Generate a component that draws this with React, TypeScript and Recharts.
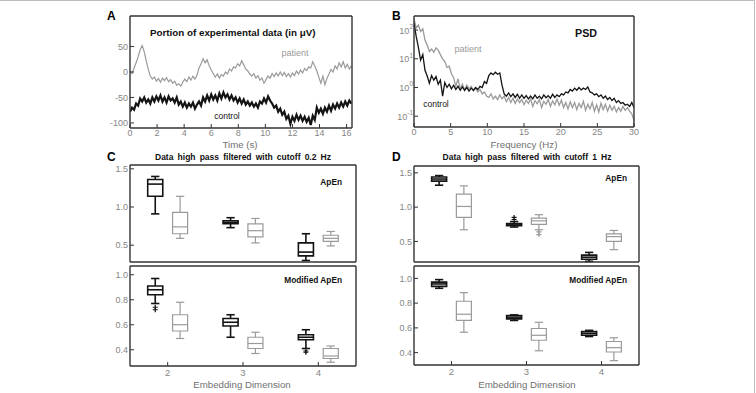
import React from 'react';
import {
  LineChart,
  Line,
  XAxis,
  YAxis,
  ComposedChart,
  Scatter,
  ReferenceArea,
  ReferenceLine,
} from 'recharts';

const FONT = '"Liberation Sans", Arial, Helvetica, sans-serif';
const AXIS = '#333333';
const TICK_TEXT = '#858585';
const CONTROL = '#141414';
const PATIENT = '#9a9a9a';

// A: raw traces, one sample every 0.15 s
const SAMPLE_STEP_S = 0.15;
const timeTicks = [0, 2, 4, 6, 8, 10, 12, 14, 16];
const patientTrace = [
  2, -3, 8, 18, 30, 44, 52, 40, 22, 5,
  -8, -14, -10, -18, -13, -20, -12, -17, -11, -19,
  -15, -22, -18, -26, -23, -28, -20, -14, -19, -10,
  -16, -8, -14, -6, 8, 16, 26, 18, 24, 12,
  4, -3, -10, -4, -12, -5, -8, 0, -4, 6,
  2, 10, 8, 16, 12, 22, 14, 6, 2, -4,
  -8, -3, -12, -7, -16, -12, -22, -15, -8, -12,
  -3, -9, -2, -8, 0, -7, -1, -9, -3, -10,
  -2, -7, 2, -4, 4, -2, 7, 3, 10, 8,
  20, 12, 2, -10, -22, -8, -25, -12, -4, 5,
  0, 12, 6, 18, 10, 20, 8, 15, 6, 12,
];
const controlTrace = [
  -78, -70, -74, -62, -66, -52, -58, -50, -60, -54,
  -62, -50, -58, -48, -56, -46, -58, -50, -60, -48,
  -56, -52, -60, -50, -64, -58, -68, -60, -70, -62,
  -68, -60, -72, -64, -58, -66, -50, -58, -46, -56,
  -44, -54, -46, -56, -42, -52, -40, -50, -44, -54,
  -46, -56, -50, -60, -52, -62, -54, -64, -58, -66,
  -60, -68, -62, -70, -58, -62, -52, -60, -48, -56,
  -62, -70, -66, -78, -72, -84, -78, -92, -86, -102,
  -88, -96, -84, -94, -86, -96, -88, -98, -90, -104,
  -86, -94, -70, -80, -72, -82, -70, -78, -66, -76,
  -64, -72, -62, -70, -60, -68, -58, -66, -56, -62,
];

// B: power spectral density, 0.3 Hz bins
const FREQ_STEP_HZ = 0.3;
const freqTicks = [0, 5, 10, 15, 20, 25, 30];
const psdTicks = [0.1, 1, 10, 100];
const patientPsd = [
  250, 120, 150, 90, 110, 45, 30, 18, 22, 17,
  24, 20, 14, 10, 8, 5, 5.5, 3, 2.2, 1.1,
  2, 0.9, 1.3, 0.8, 1.2, 0.9, 1.1, 0.75, 0.95, 0.7,
  0.85, 0.6, 0.7, 0.5, 0.45, 0.6, 0.4, 0.5, 0.38, 0.55,
  0.4, 0.5, 0.32, 0.45, 0.3, 0.42, 0.28, 0.4, 0.3, 0.38,
  0.25, 0.36, 0.28, 0.4, 0.22, 0.35, 0.27, 0.38, 0.2, 0.33,
  0.26, 0.38, 0.22, 0.34, 0.25, 0.4, 0.24, 0.36, 0.2, 0.3,
  0.18, 0.32, 0.2, 0.3, 0.17, 0.28, 0.2, 0.33, 0.16, 0.26,
  0.18, 0.3, 0.15, 0.25, 0.14, 0.28, 0.17, 0.26, 0.15, 0.24,
  0.16, 0.22, 0.14, 0.2, 0.15, 0.22, 0.16, 0.2, 0.15, 0.12,
  0.07,
];
const controlPsd = [
  180, 60, 25, 9, 14, 4, 2.5, 1.4, 2.6, 1.8,
  2.4, 1.3, 1.8, 0.5, 1.5, 1.0, 1.3, 0.9, 1.2, 0.85,
  1.1, 0.8, 1.05, 0.8, 1.0, 0.75, 0.95, 0.8, 1.0, 0.85,
  1.1, 1.0, 1.6, 1.4, 2.6, 3.2, 2.8, 3.4, 2.9, 3.2,
  1.2, 0.6, 0.5, 0.65, 0.48, 0.6, 0.45, 0.58, 0.42, 0.55,
  0.42, 0.52, 0.4, 0.5, 0.4, 0.55, 0.42, 0.5, 0.4, 0.55,
  0.44, 0.52, 0.42, 0.58, 0.45, 0.55, 0.48, 0.6, 0.55, 0.7,
  0.65, 0.85, 0.75, 0.95, 0.8, 1.0, 0.82, 0.95, 0.85, 1.05,
  0.7, 0.65, 0.55, 0.6, 0.48, 0.55, 0.42, 0.5, 0.38, 0.45,
  0.35, 0.42, 0.3, 0.35, 0.28, 0.3, 0.24, 0.26, 0.22, 0.3,
  0.2,
];

// C/D: box summaries per embedding dimension, [min, q1, median, q3, max]
const embeddingDims = [2, 3, 4];

const apEnLowCutControl = [
  [0.91, 1.14, 1.3, 1.36, 1.4],
  [0.73, 0.78, 0.8, 0.82, 0.86],
  [0.3, 0.36, 0.41, 0.53, 0.65],
];
const apEnLowCutPatient = [
  [0.59, 0.65, 0.74, 0.93, 1.14],
  [0.53, 0.61, 0.69, 0.78, 0.85],
  [0.49, 0.55, 0.59, 0.63, 0.68],
];
const modApEnLowCutControl = [
  [0.77, 0.84, 0.88, 0.91, 0.97],
  [0.5, 0.59, 0.62, 0.65, 0.68],
  [0.41, 0.48, 0.5, 0.52, 0.56],
];
const modApEnLowCutPatient = [
  [0.49, 0.55, 0.6, 0.68, 0.78],
  [0.37, 0.41, 0.45, 0.5, 0.54],
  [0.3, 0.33, 0.35, 0.41, 0.43],
];
const modApEnLowCutControlOutliers = [[2, 0.74], [2, 0.72], [4, 0.39], [4, 0.38]];

const apEnHighCutControl = [
  [1.32, 1.38, 1.41, 1.44, 1.46],
  [0.71, 0.73, 0.74, 0.76, 0.79],
  [0.21, 0.24, 0.27, 0.3, 0.34],
];
const apEnHighCutPatient = [
  [0.67, 0.85, 1.01, 1.19, 1.31],
  [0.67, 0.75, 0.8, 0.84, 0.89],
  [0.38, 0.5, 0.57, 0.61, 0.66],
];
const apEnHighCutControlOutliers = [[3, 0.85], [3, 0.82]];
const apEnHighCutPatientOutliers = [[3, 0.64], [3, 0.6]];
const modApEnHighCutControl = [
  [0.92, 0.935, 0.955, 0.97, 0.99],
  [0.66, 0.673, 0.687, 0.7, 0.705],
  [0.53, 0.54, 0.555, 0.57, 0.58],
];
const modApEnHighCutPatient = [
  [0.565, 0.66, 0.71, 0.815, 0.885],
  [0.415, 0.5, 0.54, 0.595, 0.645],
  [0.335, 0.405, 0.44, 0.49, 0.52],
];

const traceData = patientTrace.map((v, i) => ({
  t: +(i * SAMPLE_STEP_S).toFixed(2),
  patient: v,
  control: controlTrace[i],
}));
const psdData = patientPsd.map((v, i) => ({
  f: +(i * FREQ_STEP_HZ).toFixed(1),
  patient: v,
  control: controlPsd[i],
}));

const tickFont = { fill: TICK_TEXT, fontSize: 9, fontFamily: FONT };
const frameLine = { stroke: AXIS, strokeWidth: 1.4 };
const tickMark = { stroke: AXIS, strokeWidth: 1 };

// group offsets and box geometry in x-axis units
const CONTROL_SHIFT = -0.165;
const PATIENT_SHIFT = 0.165;
const BOX_HALF = 0.1;
const CAP_HALF = 0.055;

function boxMarks(stats: number[][], shift: number, color: string, width: number, id: string) {
  return stats.flatMap(([lo, q1, med, q3, hi], i) => {
    const c = embeddingDims[i] + shift;
    const line = { stroke: color, strokeWidth: width, ifOverflow: 'visible' as const };
    return [
      <ReferenceLine key={`${id}-wu${i}`} segment={[{ x: c, y: q3 }, { x: c, y: hi }]} {...line} />,
      <ReferenceLine key={`${id}-wl${i}`} segment={[{ x: c, y: lo }, { x: c, y: q1 }]} {...line} />,
      <ReferenceLine key={`${id}-cu${i}`} segment={[{ x: c - CAP_HALF, y: hi }, { x: c + CAP_HALF, y: hi }]} {...line} />,
      <ReferenceLine key={`${id}-cl${i}`} segment={[{ x: c - CAP_HALF, y: lo }, { x: c + CAP_HALF, y: lo }]} {...line} />,
      <ReferenceArea
        key={`${id}-b${i}`}
        x1={c - BOX_HALF}
        x2={c + BOX_HALF}
        y1={q1}
        y2={q3}
        fill="#ffffff"
        fillOpacity={0}
        stroke={color}
        strokeWidth={width}
        ifOverflow="visible"
      />,
      <ReferenceLine key={`${id}-m${i}`} segment={[{ x: c - BOX_HALF, y: med }, { x: c + BOX_HALF, y: med }]} {...line} />,
    ];
  });
}

function PlusMark(props: any) {
  const { cx, cy, color } = props;
  if (cx == null || cy == null) return null;
  return <path d={`M${cx - 2.5},${cy}H${cx + 2.5}M${cx},${cy - 2.5}V${cy + 2.5}`} stroke={color} strokeWidth={1.2} fill="none" />;
}

function PowerTick(props: any) {
  const { x, y, payload } = props;
  const exp = Math.round(Math.log10(payload.value));
  return (
    <text x={x} y={y} dy={3.5} textAnchor="end" fill={TICK_TEXT} fontSize={9} fontFamily={FONT}>
      10<tspan dy={-4.5} fontSize={6.5}>{exp}</tspan>
    </text>
  );
}

function Note({ x, y, anchor = 'middle', style, children }: any) {
  const tx = anchor === 'middle' ? '-50%' : anchor === 'end' ? '-100%' : '0';
  return (
    <div
      style={{
        position: 'absolute',
        left: x,
        top: y,
        transform: `translate(${tx}, -50%)`,
        whiteSpace: 'nowrap',
        fontFamily: FONT,
        lineHeight: 1,
        ...style,
      }}
    >
      {children}
    </div>
  );
}

interface BoxPanelProps {
  left: number;
  top: number;
  width: number;
  height: number;
  margin: { top: number; right: number; bottom: number; left: number };
  yWidth: number;
  xHeight: number;
  domain: [number, number];
  yTicks: number[];
  showDims: boolean;
  control: number[][];
  patient: number[][];
  controlOutliers?: number[][];
  patientOutliers?: number[][];
  id: string;
}

function BoxPanel(p: BoxPanelProps) {
  const ctrlPts = (p.controlOutliers ?? []).map(([d, v]) => ({ x: d + CONTROL_SHIFT, y: v }));
  const patPts = (p.patientOutliers ?? []).map(([d, v]) => ({ x: d + PATIENT_SHIFT, y: v }));
  return (
    <div style={{ position: 'absolute', left: p.left, top: p.top }}>
      <ComposedChart width={p.width} height={p.height} margin={p.margin}>
        <XAxis
          dataKey="x"
          type="number"
          domain={[1.5, 4.5]}
          ticks={embeddingDims}
          interval={0}
          allowDataOverflow
          height={p.xHeight}
          tickSize={-4}
          tickMargin={7}
          axisLine={frameLine}
          tickLine={tickMark}
          tick={p.showDims ? { ...tickFont, fontSize: 9.5 } : false}
        />
        <XAxis
          xAxisId="top"
          orientation="top"
          type="number"
          domain={[1.5, 4.5]}
          ticks={embeddingDims}
          interval={0}
          height={1}
          tickSize={-4}
          axisLine={frameLine}
          tickLine={tickMark}
          tick={false}
        />
        <YAxis
          dataKey="y"
          type="number"
          domain={p.domain}
          ticks={p.yTicks}
          interval={0}
          allowDataOverflow
          width={p.yWidth}
          tickSize={-4}
          tickMargin={6}
          axisLine={frameLine}
          tickLine={tickMark}
          tick={tickFont}
          tickFormatter={(v: number) => v.toFixed(1)}
        />
        <YAxis
          yAxisId="right"
          orientation="right"
          type="number"
          domain={p.domain}
          ticks={p.yTicks}
          interval={0}
          width={1}
          tickSize={-4}
          axisLine={frameLine}
          tickLine={tickMark}
          tick={false}
        />
        {boxMarks(p.patient, PATIENT_SHIFT, PATIENT, 1.2, `${p.id}p`)}
        {boxMarks(p.control, CONTROL_SHIFT, CONTROL, 1.6, `${p.id}c`)}
        <Scatter data={patPts} isAnimationActive={false} shape={(s: any) => <PlusMark {...s} color={PATIENT} />} />
        <Scatter data={ctrlPts} isAnimationActive={false} shape={(s: any) => <PlusMark {...s} color={CONTROL} />} />
      </ComposedChart>
    </div>
  );
}

export default function App() {
  const letter = { fontWeight: 700, fontSize: 12, color: '#000' };
  const subTitle = { fontWeight: 700, fontSize: 8.5, wordSpacing: 1.8, color: '#111' };
  const measure = { fontWeight: 700, fontSize: 8.3, color: '#111' };
  const axisTitle = { fontSize: 9.7, color: '#707070' };
  return (
    <div
      style={{
        position: 'absolute',
        left: 0,
        top: 0,
        width: 756,
        height: 393,
        background: '#ffffff',
        overflow: 'hidden',
        fontFamily: FONT,
      }}
    >
      <div style={{ position: 'absolute', left: 0, top: 0, width: 755, height: 1, background: '#bdbdbd' }} />
      <div style={{ position: 'absolute', left: 754, top: 0, width: 1, height: 393, background: '#bdbdbd' }} />

      {/* A: time series */}
      <div style={{ position: 'absolute', left: 100, top: 6 }}>
        <LineChart width={262} height={152} data={traceData} margin={{ top: 9, right: 9, bottom: 0, left: 0 }}>
          <XAxis
            dataKey="t"
            type="number"
            domain={[0, 16.4]}
            ticks={timeTicks}
            interval={0}
            allowDataOverflow
            height={30}
            tickSize={-4}
            tickMargin={6}
            axisLine={frameLine}
            tickLine={tickMark}
            tick={tickFont}
          />
          <XAxis xAxisId="top" orientation="top" type="number" domain={[0, 16.4]} ticks={timeTicks} interval={0} height={1} tickSize={-4} axisLine={frameLine} tickLine={tickMark} tick={false} />
          <YAxis
            type="number"
            domain={[-110, 110]}
            ticks={[-100, -50, 0, 50]}
            interval={0}
            allowDataOverflow
            width={30}
            tickSize={-4}
            tickMargin={6}
            axisLine={frameLine}
            tickLine={tickMark}
            tick={tickFont}
          />
          <YAxis yAxisId="right" orientation="right" type="number" domain={[-110, 110]} ticks={[-100, -50, 0, 50]} interval={0} width={1} tickSize={-4} axisLine={frameLine} tickLine={tickMark} tick={false} />
          <Line dataKey="patient" stroke={PATIENT} strokeWidth={1.2} dot={false} type="linear" isAnimationActive={false} />
          <Line dataKey="control" stroke={CONTROL} strokeWidth={2.2} dot={false} type="linear" isAnimationActive={false} />
        </LineChart>
      </div>

      {/* B: spectra */}
      <div style={{ position: 'absolute', left: 380, top: 6 }}>
        <LineChart width={262} height={152} data={psdData} margin={{ top: 9, right: 7, bottom: 0, left: 0 }}>
          <XAxis
            dataKey="f"
            type="number"
            domain={[0, 30]}
            ticks={freqTicks}
            interval={0}
            allowDataOverflow
            height={31}
            tickSize={-4}
            tickMargin={6}
            axisLine={frameLine}
            tickLine={tickMark}
            tick={tickFont}
          />
          <XAxis xAxisId="top" orientation="top" type="number" domain={[0, 30]} ticks={freqTicks} interval={0} height={1} tickSize={-4} axisLine={frameLine} tickLine={tickMark} tick={false} />
          <YAxis
            type="number"
            scale="log"
            domain={[0.042, 310]}
            ticks={psdTicks}
            interval={0}
            allowDataOverflow
            width={34}
            tickSize={-4}
            tickMargin={5}
            axisLine={frameLine}
            tickLine={tickMark}
            tick={<PowerTick />}
          />
          <YAxis yAxisId="right" orientation="right" type="number" scale="log" domain={[0.042, 310]} ticks={psdTicks} interval={0} width={1} tickSize={-4} axisLine={frameLine} tickLine={tickMark} tick={false} />
          <Line dataKey="patient" stroke={PATIENT} strokeWidth={1.3} dot={false} type="linear" isAnimationActive={false} />
          <Line dataKey="control" stroke={CONTROL} strokeWidth={1.3} dot={false} type="linear" isAnimationActive={false} />
        </LineChart>
      </div>

      {/* C: cutoff 0.2 Hz */}
      <BoxPanel
        id="c1"
        left={100}
        top={160}
        width={262}
        height={103}
        margin={{ top: 4, right: 5, bottom: 0, left: 0 }}
        yWidth={30}
        xHeight={1}
        domain={[0.28, 1.55]}
        yTicks={[0.5, 1.0, 1.5]}
        showDims={false}
        control={apEnLowCutControl}
        patient={apEnLowCutPatient}
      />
      <BoxPanel
        id="c2"
        left={100}
        top={264}
        width={262}
        height={129}
        margin={{ top: 1, right: 5, bottom: 0, left: 0 }}
        yWidth={30}
        xHeight={27}
        domain={[0.27, 1.07]}
        yTicks={[0.4, 0.6, 0.8, 1.0]}
        showDims
        control={modApEnLowCutControl}
        patient={modApEnLowCutPatient}
        controlOutliers={modApEnLowCutControlOutliers}
      />

      {/* D: cutoff 1 Hz */}
      <BoxPanel
        id="d1"
        left={380}
        top={161}
        width={265}
        height={102}
        margin={{ top: 4, right: 5, bottom: 0, left: 0 }}
        yWidth={34}
        xHeight={1}
        domain={[0.2, 1.6]}
        yTicks={[0.5, 1.0, 1.5]}
        showDims={false}
        control={apEnHighCutControl}
        patient={apEnHighCutPatient}
        controlOutliers={apEnHighCutControlOutliers}
        patientOutliers={apEnHighCutPatientOutliers}
      />
      <BoxPanel
        id="d2"
        left={380}
        top={264}
        width={265}
        height={128}
        margin={{ top: 1, right: 5, bottom: 0, left: 0 }}
        yWidth={34}
        xHeight={27}
        domain={[0.3, 1.1]}
        yTicks={[0.4, 0.6, 0.8, 1.0]}
        showDims
        control={modApEnHighCutControl}
        patient={modApEnHighCutPatient}
      />

      {/* annotations */}
      <Note x={107} y={16} anchor="start" style={letter}>A</Note>
      <Note x={392} y={16} anchor="start" style={letter}>B</Note>
      <Note x={107} y={157} anchor="start" style={letter}>C</Note>
      <Note x={392} y={157} anchor="start" style={letter}>D</Note>

      <Note x={150} y={33} anchor="start" style={{ fontWeight: 700, fontSize: 9.8, color: '#111' }}>
        Portion of experimental data (in μV)
      </Note>
      <Note x={295} y={53} style={{ fontSize: 9, color: PATIENT }}>patient</Note>
      <Note x={227} y={116} style={{ fontSize: 8.5, color: CONTROL }}>control</Note>
      <Note x={240} y={145} style={axisTitle}>Time (s)</Note>

      <Note x={586} y={33} style={{ fontWeight: 700, fontSize: 10.7, color: '#111' }}>PSD</Note>
      <Note x={468} y={49} style={{ fontSize: 9, color: PATIENT }}>patient</Note>
      <Note x={436} y={104} style={{ fontSize: 8.5, color: CONTROL }}>control</Note>
      <Note x={524} y={145} style={axisTitle}>Frequency (Hz)</Note>

      <Note x={243} y={157} style={subTitle}>Data high pass filtered with cutoff 0.2 Hz</Note>
      <Note x={342} y={182} anchor="end" style={measure}>ApEn</Note>
      <Note x={342} y={280} anchor="end" style={measure}>Modified ApEn</Note>
      <Note x={242} y={385} style={axisTitle}>Embedding Dimension</Note>

      <Note x={527} y={157} style={subTitle}>Data high pass filtered with cutoff 1 Hz</Note>
      <Note x={627} y={178} anchor="end" style={measure}>ApEn</Note>
      <Note x={627} y={280} anchor="end" style={measure}>Modified ApEn</Note>
      <Note x={527} y={385} style={axisTitle}>Embedding Dimension</Note>
    </div>
  );
}
